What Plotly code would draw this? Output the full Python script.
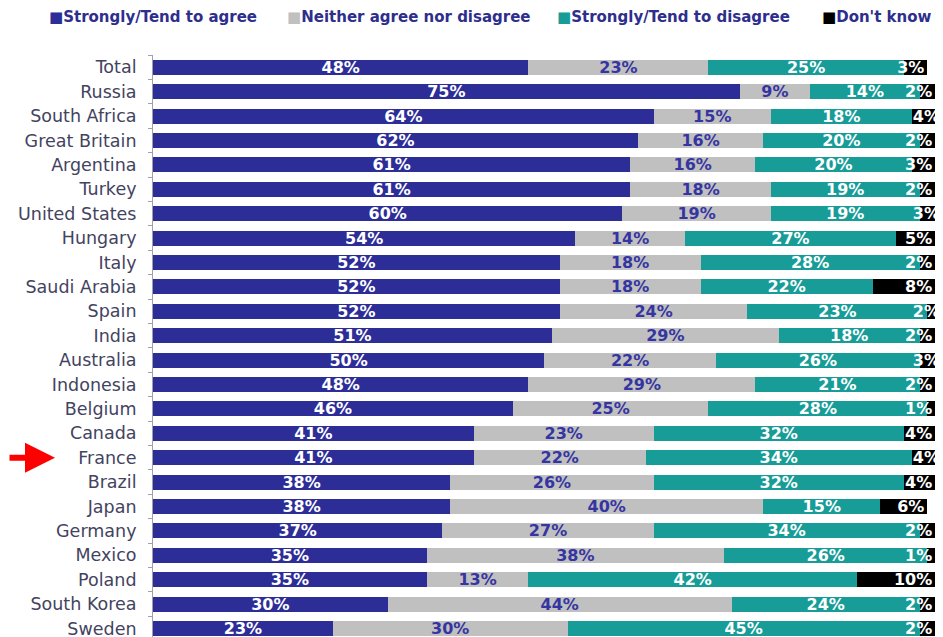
import plotly.graph_objects as go

countries = ["Total", "Russia", "South Africa", "Great Britain", "Argentina", "Turkey",
             "United States", "Hungary", "Italy", "Saudi Arabia", "Spain", "India",
             "Australia", "Indonesia", "Belgium", "Canada", "France", "Brazil", "Japan",
             "Germany", "Mexico", "Poland", "South Korea", "Sweden"]
agree = [48, 75, 64, 62, 61, 61, 60, 54, 52, 52, 52, 51, 50, 48, 46, 41, 41, 38, 38, 37, 35, 35, 30, 23]
neither = [23, 9, 15, 16, 16, 18, 19, 14, 18, 18, 24, 29, 22, 29, 25, 23, 22, 26, 40, 27, 38, 13, 44, 30]
disagree = [25, 14, 18, 20, 20, 19, 19, 27, 28, 22, 23, 18, 26, 21, 28, 32, 34, 32, 15, 34, 26, 42, 24, 45]
dontknow = [3, 2, 4, 2, 3, 2, 3, 5, 2, 8, 2, 2, 3, 2, 1, 4, 4, 4, 6, 2, 1, 10, 2, 2]

series = [
    ("Strongly/Tend to agree", agree, "#2d2d98", "white", "middle"),
    ("Neither agree nor disagree", neither, "#c0c0c0", "#3535a2", "middle"),
    ("Strongly/Tend to disagree", disagree, "#179c97", "white", "middle"),
    ("Don't know", dontknow, "#000000", "white", "end"),
]

# page geometry (browser body has an 8px margin)
W, H = 935, 629
L, T = 145, 47
PLOT_W = W - L
PAGE_OFF = 8

fig = go.Figure()
for name, vals, color, tcolor, anchor in series:
    fig.add_trace(go.Bar(
        y=countries, x=vals, name=name, orientation="h",
        marker=dict(color=color, line=dict(width=0)),
        text=[f"{v}%" for v in vals], textposition="inside",
        insidetextanchor=anchor, textangle=0,
        textfont=dict(family="DejaVu Sans", size=16, color=tcolor, weight="bold"),
        cliponaxis=False, showlegend=False,
    ))

# legend row drawn as text entries with coloured square glyphs
legend_px = [47, 285, 555, 820]
legend_y = 1 + (T - (17 - PAGE_OFF)) / (H - T)
for (name, _, color, _, _), px in zip(series, legend_px):
    fig.add_annotation(
        x=(px - PAGE_OFF - L) / PLOT_W, y=legend_y,
        xref="paper", yref="paper", xanchor="left", yanchor="middle",
        showarrow=False, align="left",
        text=f'<span style="color:{color}">■</span>{name}',
        font=dict(family="DejaVu Sans", size=15, color="#2e2e8c", weight="bold"),
    )

fig.add_annotation(
    x=(55 - PAGE_OFF - L) / PLOT_W, y="France", xref="paper", yref="y", text="",
    showarrow=True, ax=-55, ay=0, axref="pixel", ayref="pixel",
    arrowhead=2, arrowsize=1.0, arrowwidth=6, arrowcolor="#ff0000",
)

fig.update_layout(
    width=W, height=H,
    margin=dict(l=L, r=0, t=T, b=0, autoexpand=False),
    barmode="stack", bargap=0.385,
    plot_bgcolor="white", paper_bgcolor="white",
    uniformtext=dict(minsize=16, mode="show"),
    showlegend=False,
    xaxis=dict(range=[0, 101], visible=False, fixedrange=True),
    yaxis=dict(categoryorder="array", categoryarray=countries,
               range=[23.35, -0.5], showline=True, linecolor="#a0a0a8", linewidth=1,
               ticks="outside", tickson="boundaries", ticklen=4, tickcolor="#a0a0a8",
               tickfont=dict(family="DejaVu Sans", size=17.5, color="#43435f"),
               ticklabelstandoff=12, showgrid=False),
)

fig.write_html("out.html")
